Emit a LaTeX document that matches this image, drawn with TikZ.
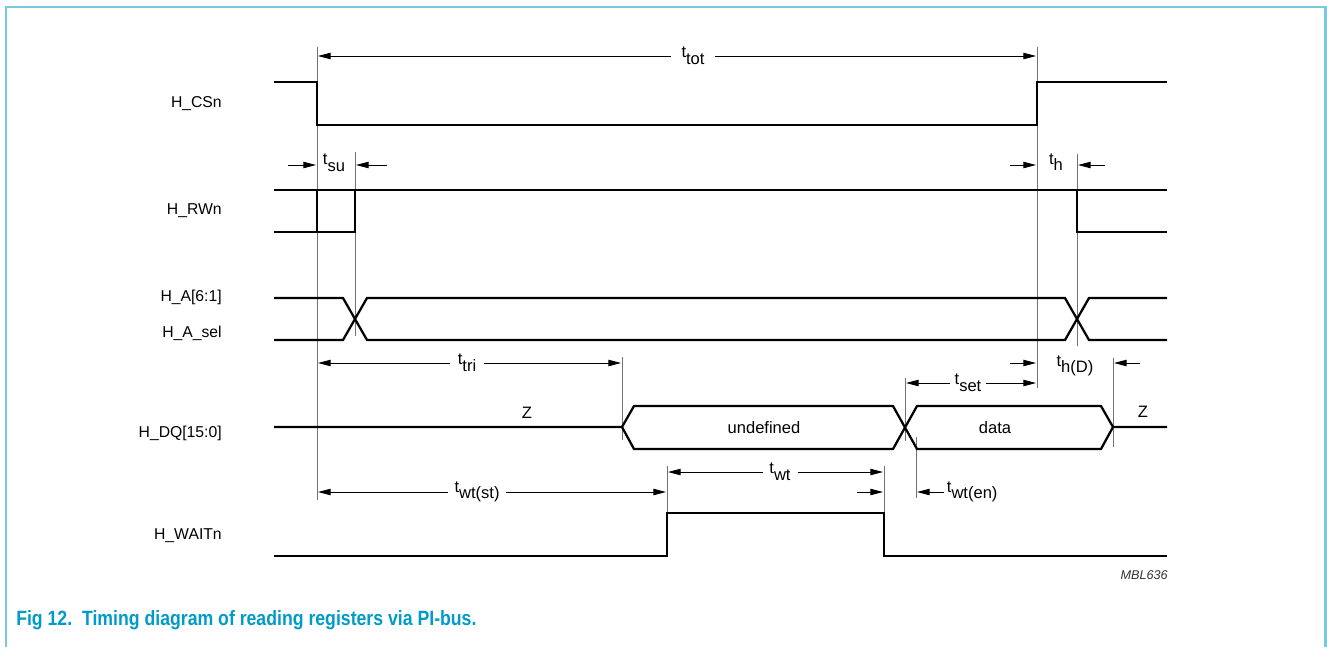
\documentclass[tikz,border=0pt]{standalone}
\usepackage{fontspec}
\setmainfont{Liberation Sans}
\usetikzlibrary{arrows.meta}
\definecolor{capblue}{RGB}{0,155,200}
\definecolor{frameblue}{RGB}{120,200,225}
\newcommand{\tsub}[1]{t\raisebox{-0.4em}{#1}}

\begin{document}
\begin{tikzpicture}[x=0.75pt,y=-0.75pt,
    sig/.style={line width=1.7pt},
    refline/.style={line width=0.6pt,black!55},
    dim/.style={line width=0.7pt,-{Triangle[length=9.5pt,width=4.8pt]}},
    txt/.style={font=\fontsize{11.8}{13}\selectfont,inner sep=0pt},
    big/.style={font=\fontsize{12.4}{14}\selectfont,inner sep=0pt},
    tlabel/.style={big,inner xsep=5pt}]
    \useasboundingbox (0,0) rectangle (1327,647);

    % frame and caption
    \draw[frameblue,line width=1.6pt] (6,647) -- (6,7) -- (1325.5,7) -- (1325.5,647);
    \node[anchor=base west,inner sep=0pt,capblue,font=\fontsize{15.5}{18}\selectfont\bfseries]
        (caption) at (16,625) {\scalebox{0.855}[1]{Fig 12.\ \ Timing diagram of reading registers via PI-bus.}};
    \node[anchor=base east,txt,font=\fontsize{9.5}{11}\selectfont\itshape,black!80] (mbl) at (1168,579) {MBL636};

    % signal names
    \node[txt,anchor=east] (cs) at (222,104) {H\_CSn};
    \node[txt,anchor=east] (rw) at (222,211) {H\_RWn};
    \node[txt,anchor=east] (addr) at (222,297) {H\_A[6:1]};
    \node[txt,anchor=east] (asel) at (222,333) {H\_A\_sel};
    \node[txt,anchor=east] (dq) at (222,433) {H\_DQ[15:0]};
    \node[txt,anchor=east] (wait) at (222,536) {H\_WAITn};

    % reference lines
    \draw[refline] (317,47) -- (317,500);
    \draw[refline] (355,152) -- (355,336);
    \draw[refline] (1037,47) -- (1037,388);
    \draw[refline] (1077,154) -- (1077,346);
    \draw[refline] (622,357) -- (622,440);
    \draw[refline] (905,378) -- (905,441);
    \draw[refline] (916,437) -- (916,498);
    \draw[refline] (1113,358) -- (1113,447);
    \draw[refline] (667,466) -- (667,513);
    \draw[refline] (884,466) -- (884,513);

    % H_CSn
    \draw[sig] (274,82) -- (317,82) -- (317,125) -- (1037,125) -- (1037,82) -- (1167,82);
    % H_RWn
    \draw[sig] (274,190) -- (1167,190);
    \draw[sig] (274,232) -- (355,232) -- (355,190);
    \draw[sig] (317,232) -- (317,190);
    \draw[sig] (1077,190) -- (1077,232) -- (1167,232);
    % H_A[6:1], H_A_sel
    \draw[sig] (274,298) -- (343,298) -- (367,340) -- (1065,340) -- (1089,298) -- (1167,298);
    \draw[sig] (274,340) -- (343,340) -- (367,298) -- (1065,298) -- (1089,340) -- (1167,340);
    % H_DQ[15:0]
    \draw[sig] (274,427) -- (622,427) -- (634,406) -- (893,406) -- (917,449) -- (1101,449) -- (1113,427) -- (1167,427);
    \draw[sig] (622,427) -- (634,449) -- (893,449) -- (917,406) -- (1101,406) -- (1113,427);
    \node[big] (z1) at (527,413) {Z};
    \node[big] (z2) at (1143,412) {Z};
    \node[big] (undef) at (764,428) {undefined};
    \node[big] (data) at (995,428) {data};
    % H_WAITn
    \draw[sig] (274,556) -- (667,556) -- (667,513) -- (884,513) -- (884,556) -- (1167,556);

    % timing arrows
    \node[tlabel,inner xsep=8pt] (ttot) at (693,56) {\tsub{tot}};
    \draw[dim] (ttot) -- (318,56);
    \draw[dim] (ttot) -- (1036,56);

    \node[big] (tsu) at (334,163) {\tsub{su}};
    \draw[dim] (288,165) -- (316,165);
    \draw[dim] (387,165) -- (356,165);

    \node[big] (th) at (1056,162) {\tsub{h}};
    \draw[dim] (1010,165) -- (1036,165);
    \draw[dim] (1105,165) -- (1078,165);

    \node[tlabel,inner xsep=6pt] (ttri) at (467,363) {\tsub{tri}};
    \draw[dim] (ttri) -- (318,363);
    \draw[dim] (ttri) -- (621,363);

    \node[tlabel,inner xsep=3pt] (tset) at (968,383) {\tsub{set}};
    \draw[dim] (tset) -- (906,383);
    \draw[dim] (tset) -- (1036,383);

    \node[big] (thd) at (1075,366) {\tsub{h(D)}};
    \draw[dim] (1010,363) -- (1036,363);
    \draw[dim] (1140,363) -- (1114,363);

    \node[tlabel,inner xsep=5pt] (twt) at (780,472) {\tsub{wt}};
    \draw[dim] (twt) -- (668,472);
    \draw[dim] (twt) -- (883,472);

    \node[tlabel,inner xsep=5pt] (twtst) at (477,492) {\tsub{wt(st)}};
    \draw[dim] (twtst) -- (318,492);
    \draw[dim] (twtst) -- (666,492);
    \draw[dim] (857,492) -- (883,492);

    \node[tlabel,inner xsep=2pt,anchor=west] (twten) at (944,492) {\tsub{wt(en)}};
    \draw[dim] (twten) -- (917,492);
\end{tikzpicture}
\end{document}
